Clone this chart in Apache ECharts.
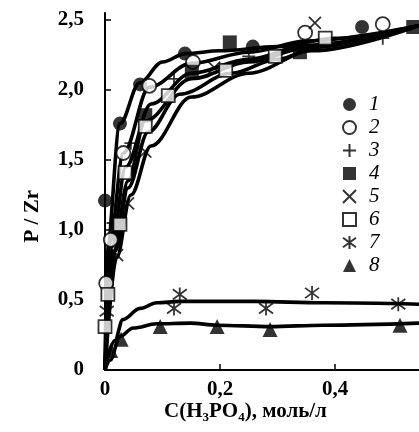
<!DOCTYPE html>
<html>
<head>
<meta charset="utf-8">
<script src="https://cdn.jsdelivr.net/npm/echarts@6/dist/echarts.min.js"></script>
<style>
  html, body { margin: 0; padding: 0; background: #fff; }
  #chart { width: 419px; height: 432px; }
</style>
</head>
<body>
<div id="chart"></div>
<script>
// Measured points, [C(H3PO4) mol/l, P/Zr] for samples 1-8
const points1 = [[0, 1.21], [0.026, 1.76], [0.061, 2.04], [0.139, 2.26], [0.257, 2.31], [0.447, 2.45]];
const points2 = [[0.002, 0.62], [0.010, 0.93], [0.032, 1.55], [0.077, 2.03], [0.153, 2.20], [0.348, 2.41], [0.483, 2.47]];
const points3 = [[0.014, 1.05], [0.045, 1.62], [0.12, 2.08], [0.25, 2.24], [0.483, 2.37]];
const points4 = [[0.070, 1.82], [0.151, 2.13], [0.217, 2.34], [0.339, 2.27], [0.536, 2.45]];
const points5 = [[0.021, 0.82], [0.040, 1.19], [0.070, 1.56], [0.190, 2.16], [0.365, 2.48]];
const points6 = [[0, 0.31], [0.005, 0.54], [0.026, 1.04], [0.035, 1.41], [0.070, 1.74], [0.110, 1.96], [0.210, 2.14], [0.296, 2.24], [0.383, 2.37]];
const points7 = [[0.003, 0.42], [0.120, 0.44], [0.130, 0.54], [0.280, 0.44], [0.360, 0.55], [0.510, 0.47]];
const points8 = [[0.010, 0.14], [0.028, 0.22], [0.096, 0.31], [0.195, 0.31], [0.287, 0.29], [0.513, 0.32]];

// Smoothed trend curves drawn through each sample's points
const curve1 = [[0, 0], [0.004, 0.9], [0.026, 1.76], [0.06, 2.05], [0.10, 2.2], [0.14, 2.26], [0.2, 2.28], [0.3, 2.31], [0.4, 2.37], [0.546, 2.46]];
const curve2 = [[0, 0], [0.008, 0.9], [0.032, 1.55], [0.077, 2.02], [0.15, 2.19], [0.25, 2.27], [0.35, 2.35], [0.546, 2.46]];
const curve3 = [[0, 0], [0.012, 0.88], [0.036, 1.45], [0.08, 1.9], [0.15, 2.12], [0.25, 2.22], [0.35, 2.32], [0.546, 2.46]];
const curve4 = [[0, 0], [0.015, 0.85], [0.04, 1.35], [0.07, 1.78], [0.15, 2.08], [0.25, 2.2], [0.35, 2.3], [0.546, 2.46]];
const curve5 = [[0, 0], [0.02, 0.8], [0.045, 1.25], [0.08, 1.6], [0.15, 1.95], [0.25, 2.12], [0.36, 2.28], [0.546, 2.46]];
const curve6 = [[0, 0], [0.018, 0.85], [0.04, 1.3], [0.075, 1.7], [0.13, 1.97], [0.22, 2.12], [0.3, 2.22], [0.38, 2.33], [0.546, 2.46]];
const curve7 = [[0, 0], [0.017, 0.21], [0.031, 0.36], [0.061, 0.44], [0.09, 0.48], [0.13, 0.49], [0.26, 0.49], [0.38, 0.48], [0.546, 0.47]];
const curve8 = [[0, 0], [0.009, 0.07], [0.026, 0.24], [0.049, 0.30], [0.09, 0.33], [0.148, 0.335], [0.195, 0.32], [0.287, 0.31], [0.38, 0.32], [0.546, 0.335]];

const seriesNames = ['1', '2', '3', '4', '5', '6', '7', '8'];
const yTicks = [0, 0.5, 1.0, 1.5, 2.0, 2.5];
const xTicks = [0, 0.2, 0.4];

const FONT = '"Liberation Serif", "Times New Roman", serif';

const markers = [
  { symbol: 'circle', size: 14, style: { color: '#000' } },
  { symbol: 'circle', size: 14, style: { color: '#fff', borderColor: '#000', borderWidth: 1.8 } },
  { symbol: 'path://M0,5L10,5M5,0L5,10', size: 13, style: { color: '#000', borderColor: '#000', borderWidth: 1.8 } },
  { symbol: 'rect', size: 14, style: { color: '#000' } },
  { symbol: 'path://M0,0L10,10M10,0L0,10', size: 12, style: { color: '#000', borderColor: '#000', borderWidth: 1.8 } },
  { symbol: 'rect', size: 13, style: { color: '#fff', borderColor: '#000', borderWidth: 1.8 } },
  { symbol: 'path://M0,1.34L10,8.66M10,1.34L0,8.66M5,0L5,10', size: 14, style: { color: '#000', borderColor: '#000', borderWidth: 1.8 } },
  { symbol: 'triangle', size: 15, style: { color: '#000' } }
];

const pointSets = [points1, points2, points3, points4, points5, points6, points7, points8];
const curveSets = [curve1, curve2, curve3, curve4, curve5, curve6, curve7, curve8];

const series = [];
curveSets.forEach(function (c) {
  series.push({
    type: 'line',
    data: c,
    smooth: 0.35,
    smoothMonotone: 'x',
    showSymbol: false,
    silent: true,
    z: 2,
    lineStyle: { color: '#000', width: 3.6 }
  });
});
pointSets.forEach(function (p, i) {
  series.push({
    name: seriesNames[i],
    type: 'scatter',
    data: p,
    symbol: markers[i].symbol,
    symbolSize: markers[i].size,
    itemStyle: markers[i].style,
    z: 5
  });
});

const fmt = function (v) {
  return v === 0 ? '0' : v.toFixed(1).replace('.', ',');
};

const chart = echarts.init(document.getElementById('chart'), null, { renderer: 'canvas' });
chart.setOption({
  backgroundColor: '#fff',
  animation: false,
  grid: { left: 105, right: 0, top: 13, bottom: 62, containLabel: false },
  xAxis: {
    type: 'value',
    min: 0,
    max: 0.546,
    splitLine: { show: false },
    axisLine: { lineStyle: { color: '#000', width: 2 } },
    axisTick: { inside: true, length: 6, lineStyle: { color: '#000', width: 1.5 }, customValues: xTicks },
    axisLabel: {
      customValues: xTicks,
      formatter: fmt,
      color: '#000', fontFamily: FONT, fontWeight: 'bold', fontSize: 21, margin: 9
    }
  },
  yAxis: {
    type: 'value',
    min: 0,
    max: 2.55,
    splitLine: { show: false },
    axisLine: { lineStyle: { color: '#000', width: 2 } },
    axisTick: { inside: true, length: 6, lineStyle: { color: '#000', width: 1.5 }, customValues: yTicks },
    axisLabel: {
      customValues: yTicks,
      formatter: fmt,
      color: '#000', fontFamily: FONT, fontWeight: 'bold', fontSize: 21, margin: 21
    }
  },
  legend: {
    orient: 'vertical',
    left: 337,
    top: 89,
    itemWidth: 13,
    itemHeight: 13,
    itemGap: 2,
    data: seriesNames,
    textStyle: { color: '#000', fontFamily: FONT, fontStyle: 'italic', fontSize: 21, padding: [0, 0, 0, 8] }
  },
  graphic: [
    {
      type: 'text',
      left: 22,
      top: 190,
      rotation: Math.PI / 2,
      style: {
        text: 'P / Zr',
        fill: '#000',
        font: 'bold 21px ' + FONT
      }
    },
    {
      type: 'text',
      left: 164,
      top: 401,
      style: {
        text: '{n|C(H}{s|3}{n|PO}{s|4}{n|), моль/л}',
        rich: {
          n: { fontFamily: FONT, fontWeight: 'bold', fontSize: 21, fill: '#000', verticalAlign: 'bottom' },
          s: { fontFamily: FONT, fontWeight: 'bold', fontSize: 13, fill: '#000', verticalAlign: 'bottom', padding: [0, 0, -2, 0] }
        }
      }
    }
  ],
  series: series
});
</script>
</body>
</html>
